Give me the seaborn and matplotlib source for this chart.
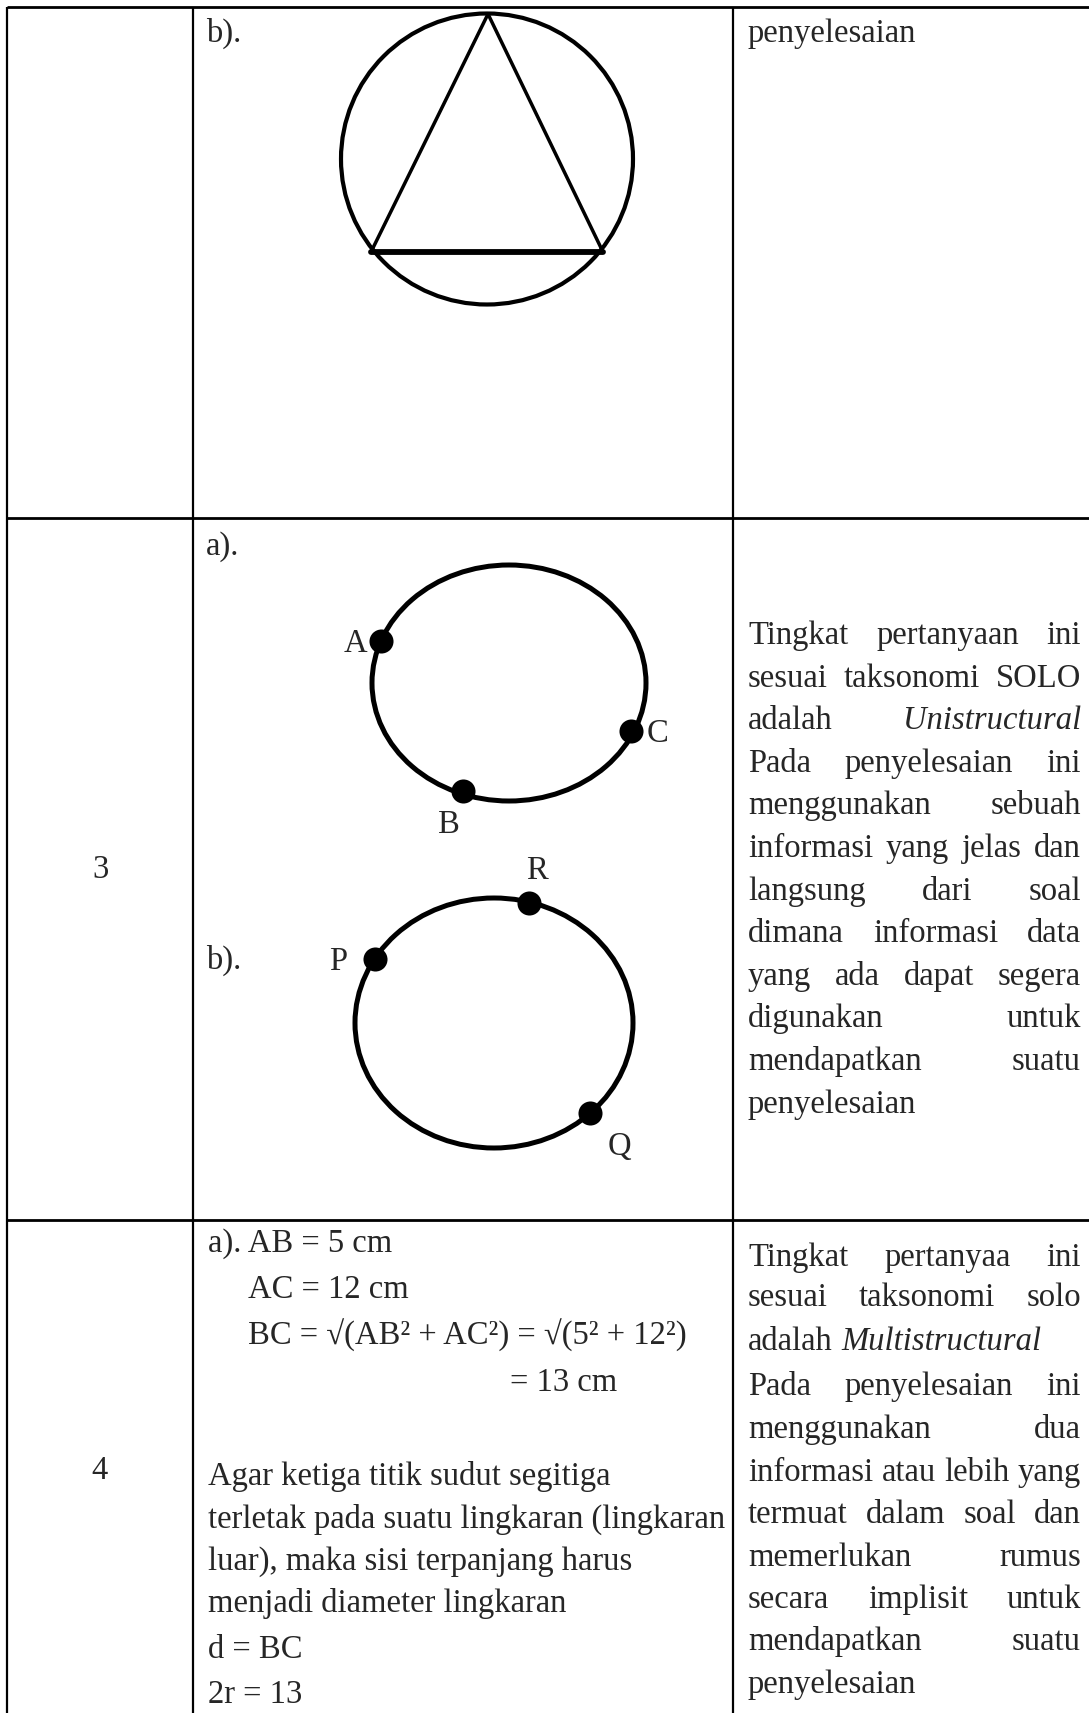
import matplotlib
matplotlib.use("Agg")
import matplotlib.pyplot as plt
from matplotlib.patches import Ellipse
import seaborn as sns

# ------------------------------
# Values (pixels of the 1089x1713 page)
# ------------------------------
col_lines = [7, 193, 733]
row_lines = [7, 518, 1220]

# circle with triangle (question 2b) and the two circles of question 3
circle_cx = [487, 509, 494]
circle_cy = [159, 683, 1023]
circle_w = [292, 274, 278]
circle_h = [291, 236, 250]

tri_x = [371, 488, 603]
tri_y = [252, 14, 252]

point_names = ["A", "C", "B", "R", "P", "Q"]
point_x = [381, 631, 463, 529, 375, 590]
point_y = [641, 731, 791, 903, 959, 1113]
label_x = [355, 658, 449, 537, 338, 619]
label_y = [652, 742, 833, 879, 970, 1155]

row3_right = [
    "Tingkat pertanyaan ini",
    "sesuai taksonomi SOLO",
    "adalah Unistructural",
    "Pada penyelesaian ini",
    "menggunakan sebuah",
    "informasi yang jelas dan",
    "langsung dari soal",
    "dimana informasi data",
    "yang ada dapat segera",
    "digunakan untuk",
    "mendapatkan suatu",
    "penyelesaian",
]
row3_last = [11]

row4_right = [
    "Tingkat pertanyaa ini",
    "sesuai taksonomi solo",
    "adalah Multistructural",
    "Pada penyelesaian ini",
    "menggunakan dua",
    "informasi atau lebih yang",
    "termuat dalam soal dan",
    "memerlukan rumus",
    "secara implisit untuk",
    "mendapatkan suatu",
    "penyelesaian",
]
row4_last = [2, 10]
row4_right_y = [1266, 1306, 1350, 1395, 1438, 1481, 1523, 1566, 1608, 1650, 1693]

row4_calc = [
    "a). AB = 5 cm",
    "AC = 12 cm",
    "BC = √(AB² + AC²) = √(5² + 12²)",
    "= 13 cm",
]
row4_calc_x = [208, 248, 248, 510]
row4_calc_y = [1252, 1298, 1345, 1391]

row4_text = [
    "Agar ketiga titik sudut segitiga",
    "terletak pada suatu lingkaran (lingkaran",
    "luar), maka sisi terpanjang harus",
    "menjadi diameter lingkaran",
    "d = BC",
    "2r = 13",
]
row4_text_y = [1485, 1528, 1570, 1612, 1658, 1703]

italic_words = {"Unistructural", "Multistructural"}

# ------------------------------
# Figure
# ------------------------------
sns.set_theme(style="white")
plt.rcParams["font.family"] = ["Liberation Serif", "DejaVu Serif"]
FS = 23.5
W, H = 1089, 1713

fig = plt.figure(figsize=(W / 100, H / 100), dpi=100)
ax = fig.add_axes([0, 0, 1, 1])

# table grid
ax.vlines(col_lines, row_lines[0], H, color="black", lw=1.6)
ax.hlines(row_lines, col_lines[0], W, color="black", lw=2.0)

# circles
for cx, cy, w, h, lw in zip(circle_cx, circle_cy, circle_w, circle_h, [3.0, 3.6, 3.6]):
    ax.add_patch(Ellipse((cx, cy), w, h, fill=False, ec="black", lw=lw))

# triangle: two sides thin, base thick
sns.lineplot(x=tri_x, y=tri_y, sort=False, estimator=None, color="black", lw=2.5, ax=ax)
sns.lineplot(x=[tri_x[0], tri_x[2]], y=[tri_y[0], tri_y[2]], sort=False, estimator=None,
             color="black", lw=4.2, ax=ax)

# points on circles
sns.scatterplot(x=point_x, y=point_y, s=300, color="black", edgecolor="black",
                linewidth=0, ax=ax, legend=False, zorder=5)
for name, lx, ly in zip(point_names, label_x, label_y):
    ax.text(lx, ly, name, fontsize=FS, ha="center", va="baseline")

# row labels and sub-question labels
ax.text(100, 878, "3", fontsize=FS, ha="center", va="baseline")
ax.text(99, 1479, "4", fontsize=FS, ha="center", va="baseline")
ax.text(206, 42, "b).", fontsize=FS, va="baseline")
ax.text(206, 555, "a).", fontsize=FS, va="baseline")
ax.text(206, 969, "b).", fontsize=FS, va="baseline")
ax.text(748, 42, "penyelesaian", fontsize=FS, va="baseline")

fig.canvas.draw()
renderer = fig.canvas.get_renderer()
space_w = 0.25 * FS * 100 / 72


def put_line(line, x0, x1, y, justify):
    words = line.split()
    arts = [ax.text(0, y, w, fontsize=FS, va="baseline", ha="left",
                    style="italic" if w in italic_words else "normal") for w in words]
    widths = [a.get_window_extent(renderer).width for a in arts]
    gap = space_w
    if justify and len(words) > 1:
        gap = (x1 - x0 - sum(widths)) / (len(words) - 1)
    x = x0
    for a, w in zip(arts, widths):
        a.set_x(x)
        x += w + gap


for i, line in enumerate(row3_right):
    put_line(line, 748, 1081, 644 + i * 42.6, i not in row3_last)

for i, line in enumerate(row4_right):
    put_line(line, 748, 1081, row4_right_y[i], i not in row4_last)

for line, x, y in zip(row4_calc, row4_calc_x, row4_calc_y):
    ax.text(x, y, line, fontsize=FS, va="baseline")

for line, y in zip(row4_text, row4_text_y):
    ax.text(208, y, line, fontsize=FS, va="baseline")

ax.set_xlim(0, W)
ax.set_ylim(H, 0)
ax.axis("off")

fig.savefig("out.png", dpi=100, facecolor="white")
